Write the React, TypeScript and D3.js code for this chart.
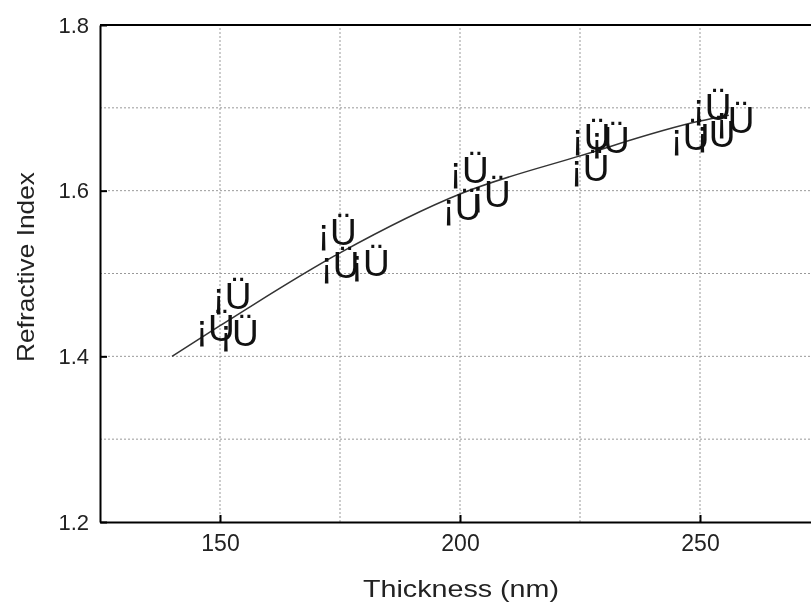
import React, { useEffect, useRef } from "react";
import * as d3 from "d3";

// measured points (thickness nm, refractive index)
const thickness = [152.5, 149, 154, 174.4, 175, 181.3, 201.9, 200.4, 206.5, 227.3, 231.3, 227.1, 252.5, 247.9, 253.3, 257.3];
const refIndex = [1.473, 1.435, 1.429, 1.551, 1.511, 1.513, 1.625, 1.581, 1.596, 1.665, 1.661, 1.628, 1.701, 1.665, 1.669, 1.686];

// fitted curve
const fitX = [140, 150, 175, 200, 225, 250, 256];
const fitY = [1.4, 1.437, 1.525, 1.596, 1.642, 1.684, 1.691];

const xTicks = [150, 200, 250];
const yTicks = [1.2, 1.4, 1.6, 1.8];
const xGrid = [150, 175, 200, 225, 250];
const yGrid = [1.3, 1.4, 1.5, 1.6, 1.7];

const App = () => {
  const ref = useRef<SVGSVGElement | null>(null);

  useEffect(() => {
    const width = 811;
    const height = 603;
    const margin = { top: 25, left: 100, bottom: 81 };

    const x = d3.scaleLinear().domain([125, 275]).range([margin.left, 820]);
    const y = d3.scaleLinear().domain([1.2, 1.8]).range([height - margin.bottom, margin.top]);

    const svg = d3.select(ref.current);
    svg.selectAll("*").remove();
    svg.attr("width", width).attr("height", height);

    const font = "'Liberation Sans', Arial, sans-serif";

    // grid
    svg.append("g")
      .selectAll("line")
      .data(xGrid)
      .enter()
      .append("line")
      .attr("x1", (d) => x(d))
      .attr("x2", (d) => x(d))
      .attr("y1", y(1.2))
      .attr("y2", y(1.8))
      .attr("stroke", "#999")
      .attr("stroke-width", 1)
      .attr("stroke-dasharray", "2,2");

    svg.append("g")
      .selectAll("line")
      .data(yGrid)
      .enter()
      .append("line")
      .attr("x1", x(125))
      .attr("x2", x(275))
      .attr("y1", (d) => y(d))
      .attr("y2", (d) => y(d))
      .attr("stroke", "#999")
      .attr("stroke-width", 1)
      .attr("stroke-dasharray", "2,2");

    // axes
    const xAxis = svg.append("g")
      .attr("transform", `translate(0, ${y(1.2)})`)
      .call(d3.axisBottom(x).tickValues(xTicks).tickSize(-7).tickSizeOuter(0).tickPadding(13));
    xAxis.select(".domain").attr("stroke", "#000").attr("stroke-width", 2);
    xAxis.selectAll(".tick line").attr("stroke", "#000").attr("stroke-width", 2);
    xAxis.selectAll("text").attr("font-family", font).attr("font-size", 23).attr("fill", "#222");

    const yAxis = svg.append("g")
      .attr("transform", `translate(${x(125)}, 0)`)
      .call(d3.axisLeft(y).tickValues(yTicks).tickFormat(d3.format(".1f")).tickSize(-7).tickSizeOuter(0).tickPadding(11));
    yAxis.select(".domain").attr("stroke", "#000").attr("stroke-width", 2);
    yAxis.selectAll(".tick line").attr("stroke", "#000").attr("stroke-width", 2);
    yAxis.selectAll("text").attr("font-family", font).attr("font-size", 22).attr("fill", "#222");

    // top border
    svg.append("line")
      .attr("x1", x(125))
      .attr("x2", x(275))
      .attr("y1", y(1.8))
      .attr("y2", y(1.8))
      .attr("stroke", "#000")
      .attr("stroke-width", 2);

    // fit curve
    const line = d3.line<number>()
      .x((d, i) => x(fitX[i]))
      .y((d) => y(d))
      .curve(d3.curveMonotoneX);
    svg.append("path")
      .attr("d", line(fitY))
      .attr("fill", "none")
      .attr("stroke", "#333")
      .attr("stroke-width", 1.5);

    // markers (broken symbol glyphs)
    svg.append("g")
      .selectAll("text")
      .data(thickness)
      .enter()
      .append("text")
      .attr("x", (d) => x(d))
      .attr("y", (d, i) => y(refIndex[i]))
      .attr("dy", "0.36em")
      .attr("text-anchor", "middle")
      .attr("font-family", font)
      .attr("font-size", 37)
      .attr("fill", "#111")
      .text("¡Ü");

    // axis labels
    svg.append("text")
      .attr("x", 461)
      .attr("y", 597)
      .attr("text-anchor", "middle")
      .attr("font-family", font)
      .attr("font-size", 24)
      .attr("textLength", 196)
      .attr("lengthAdjust", "spacingAndGlyphs")
      .attr("fill", "#222")
      .text("Thickness (nm)");

    svg.append("text")
      .attr("transform", "rotate(-90)")
      .attr("x", -267)
      .attr("y", 34)
      .attr("text-anchor", "middle")
      .attr("font-family", font)
      .attr("font-size", 24)
      .attr("textLength", 190)
      .attr("lengthAdjust", "spacingAndGlyphs")
      .attr("fill", "#222")
      .text("Refractive Index");
  }, []);

  return <svg ref={ref} style={{ position: "fixed", top: 0, left: 0 }}></svg>;
};

export default App;
